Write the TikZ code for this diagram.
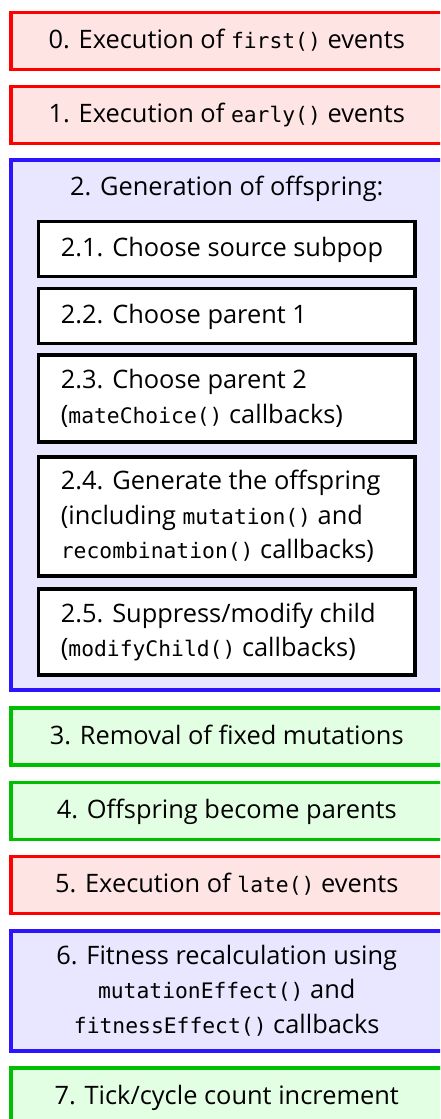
\documentclass[tikz,border=0pt]{standalone}
\usepackage{fontspec}
\setmainfont{Open Sans}
\newfontfamily\codefont{DejaVu Sans Mono}[Scale=0.84]
\newcommand\cd[1]{{\codefont #1}}
% strut that fixes the height and depth of every text line
\newcommand\linestrut{\rule[-8pt]{0pt}{31pt}}
\newcommand\mainsize{\fontsize{25.4}{34.5}\selectfont}

\definecolor{edgered}{RGB}{255,0,0}
\definecolor{fillred}{RGB}{255,228,228}
\definecolor{edgeblue}{RGB}{45,20,255}
\definecolor{fillblue}{RGB}{233,231,255}
\definecolor{edgegreen}{RGB}{0,190,0}
\definecolor{fillgreen}{RGB}{227,255,227}

\tikzset{
  stage/.style={draw, line width=3.2pt, outer sep=0pt, inner sep=0pt,
    minimum width=431.5pt, minimum height=57pt, align=center, font=\mainsize},
  redstage/.style={stage, draw=edgered, fill=fillred},
  bluestage/.style={stage, draw=edgeblue, fill=fillblue},
  greenstage/.style={stage, draw=edgegreen, fill=fillgreen},
  substep/.style={draw=black, fill=white, line width=3.4pt, outer sep=0pt,
    inner sep=0pt, minimum width=376.5pt},
  subtext/.style={anchor=west, inner sep=0pt, align=left, font=\mainsize},
  titletext/.style={anchor=base, inner sep=0pt, font=\mainsize},
}

\begin{document}
\begin{tikzpicture}[x=1pt,y=-1pt]
\useasboundingbox (0,0) rectangle (440,1119);
\clip (0,0) rectangle (440,1119);

% top-level stages of the tick
\node[redstage] (s0) at (226.75,41.35) {\linestrut 0. Execution of \cd{first()} events};
\node[redstage] (s1) at (226.75,115.35) {\linestrut 1. Execution of \cd{early()} events};

\node[bluestage, minimum height=530pt] (s2) at (226.75,425) {};
\node[titletext] (t2) at (226.75,195) {2. Generation of offspring:};

% sub-steps of offspring generation
\node[substep, minimum height=55pt] (s21) at (226.75,249.2) {};
\node[subtext] (t21) at ([xshift=22.2pt]s21.west) {\linestrut 2.1. Choose source subpop};

\node[substep, minimum height=55pt] (s22) at (226.75,316) {};
\node[subtext] (t22) at ([xshift=22.2pt]s22.west) {\linestrut 2.2. Choose parent 1};

\node[substep, minimum height=87pt] (s23) at (226.75,398.5) {};
\node[subtext] (t23) at ([xshift=22.2pt]s23.west)
  {\linestrut 2.3. Choose parent 2\\\linestrut (\cd{mateChoice()} callbacks)};

\node[substep, minimum height=119pt] (s24) at (226.75,516.5) {};
\node[subtext] (t24) at ([xshift=22.2pt]s24.west)
  {\linestrut 2.4. Generate the offspring\\\linestrut (including \cd{mutation()} and\\\linestrut \cd{recombination()} callbacks)};

\node[substep, minimum height=86pt] (s25) at (226.75,632) {};
\node[subtext] (t25) at ([xshift=22.2pt]s25.west)
  {\linestrut 2.5. Suppress/modify child\\\linestrut (\cd{modifyChild()} callbacks)};

\node[greenstage] (s3) at (226.75,736.5) {\linestrut 3. Removal of fixed mutations};
\node[greenstage] (s4) at (226.75,811) {\linestrut 4. Offspring become parents};
\node[redstage] (s5) at (226.75,885) {\linestrut 5. Execution of \cd{late()} events};
\node[bluestage, minimum height=120pt] (s6) at (226.75,991)
  {\linestrut 6. Fitness recalculation using\\\linestrut \cd{mutationEffect()} and\\\linestrut \cd{fitnessEffect()} callbacks};
\node[greenstage] (s7) at (226.75,1096.5) {\linestrut 7. Tick/cycle count increment};
\end{tikzpicture}
\end{document}
